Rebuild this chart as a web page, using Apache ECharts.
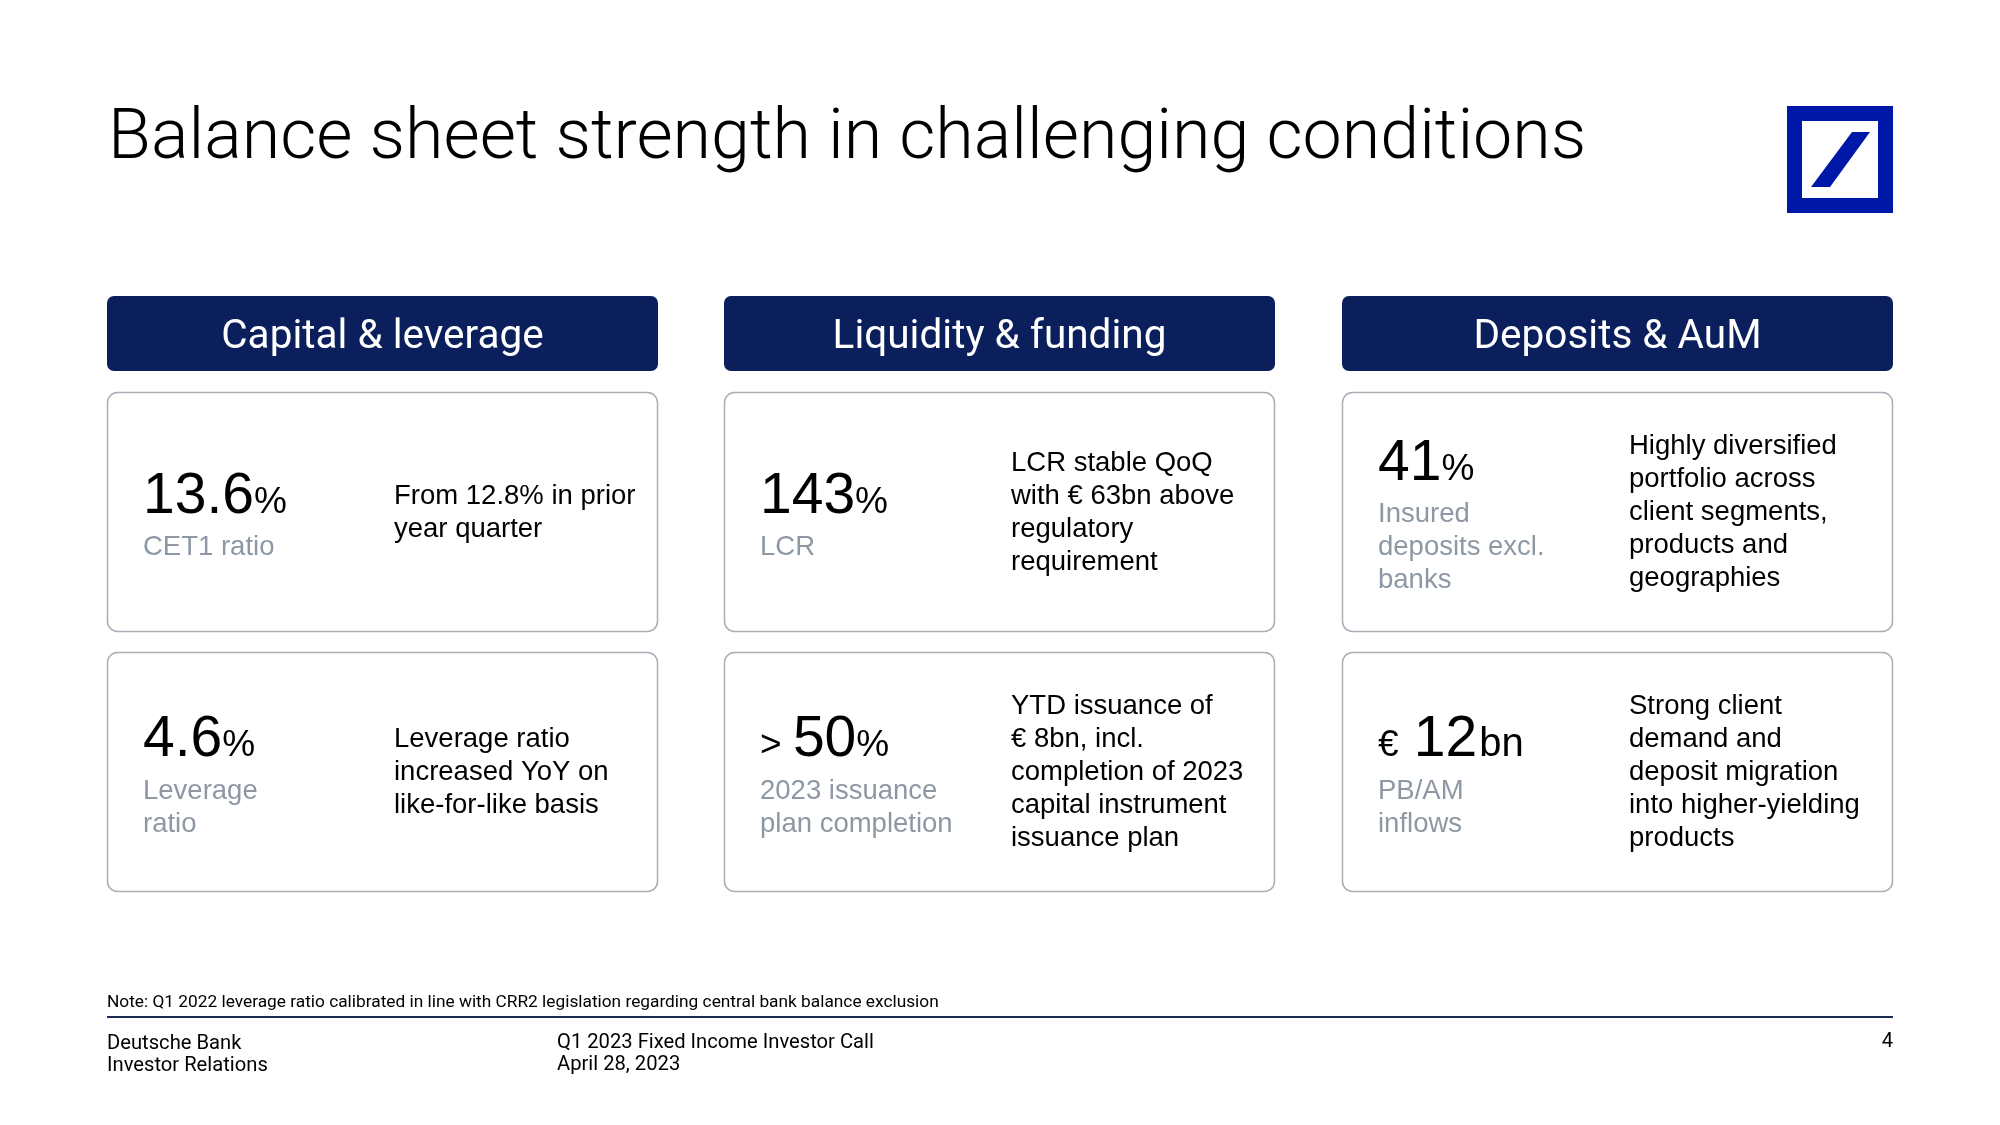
<!DOCTYPE html>
<html><head><meta charset="utf-8">
<script src="https://cdn.jsdelivr.net/npm/echarts@6/dist/echarts.min.js"></script>
<style>html,body{margin:0;padding:0;background:#fff}#chart{width:2000px;height:1125px}</style>
</head><body><div id="chart"></div>
<script>
// ---------- content ----------
const slideTitle = 'Balance sheet strength in challenging conditions';
const categories = ['Capital & leverage', 'Liquidity & funding', 'Deposits & AuM'];
// per category: [top card, bottom card]
const metricPrefix = [['', ''], ['', '> '], ['', '€ ']];
const metricValues = [['13.6', '4.6'], ['143', '50'], ['41', '12']];
const metricUnits  = [['%', '%'], ['%', '%'], ['%', 'bn']];
const metricLabels = [
  [['CET1 ratio'], ['Leverage', 'ratio']],
  [['LCR'], ['2023 issuance', 'plan completion']],
  [['Insured', 'deposits excl.', 'banks'], ['PB/AM', 'inflows']]
];
const metricNotes = [
  [['From 12.8% in prior', 'year quarter'], ['Leverage ratio', 'increased YoY on', 'like-for-like basis']],
  [['LCR stable QoQ', 'with € 63bn above', 'regulatory', 'requirement'], ['YTD issuance of', '€ 8bn, incl.', 'completion of 2023', 'capital instrument', 'issuance plan']],
  [['Highly diversified', 'portfolio across', 'client segments,', 'products and', 'geographies'], ['Strong client', 'demand and', 'deposit migration', 'into higher-yielding', 'products']]
];
const footnote = 'Note: Q1 2022 leverage ratio calibrated in line with CRR2 legislation regarding central bank balance exclusion';
const footerLeft = ['Deutsche Bank', 'Investor Relations'];
const footerMid = ['Q1 2023 Fixed Income Investor Call', 'April 28, 2023'];
const pageNumber = '4';

// ---------- style ----------
const NAVY = '#0b1f5c';
const GREY = '#8e98a4';
const BORDER = '#a7aeb6';
const DB_BLUE = '#0018a8';
const BODY = "'Liberation Sans', Arial, sans-serif";
const HEAD = "Roboto, 'Liberation Sans', sans-serif";

const mctx = document.createElement('canvas').getContext('2d');
function textW(t, font) { mctx.font = font; return mctx.measureText(t).width; }
function midToBase(font) {
  mctx.font = font;
  mctx.textBaseline = 'alphabetic';
  const a = mctx.measureText('H').actualBoundingBoxAscent;
  mctx.textBaseline = 'middle';
  const b = mctx.measureText('H').actualBoundingBoxAscent;
  mctx.textBaseline = 'alphabetic';
  return a - b;
}
function txt(x, y, text, o) {
  return {
    type: 'text', x: x, y: y, silent: true,
    style: Object.assign({
      text: text, fill: '#000',
      align: 'left', verticalAlign: 'middle',
      textAlign: 'left', textVerticalAlign: 'middle'
    }, o)
  };
}

const colX = [107, 724, 1342];
const colW = 551;
const headY = 296, headH = 75;
const rowY = [392, 652], rowH = 239;
const numOff = 36, noteOff = 287;
const NUM_FS = 57, UNIT_FS = 37, PRE_FS = 37, LAB_FS = 27.5, LINE_H = 33, NUM_LINE_H = 70;

const g = [];
// title
g.push(txt(108, 140, slideTitle, {font: '300 70px ' + HEAD, fill: '#000'}));
// logo
g.push({type: 'rect', shape: {x: 1787, y: 106, width: 106, height: 107}, style: {fill: DB_BLUE}});
g.push({type: 'rect', shape: {x: 1802, y: 121, width: 76, height: 77}, style: {fill: '#fff'}});
g.push({type: 'polygon', shape: {points: [[1852, 132], [1870, 132], [1830, 187], [1811, 187]]}, style: {fill: DB_BLUE}});

categories.forEach(function (cat, c) {
  const x0 = colX[c];
  g.push({type: 'rect', shape: {x: x0, y: headY, width: colW, height: headH, r: 7}, style: {fill: NAVY}});
  g.push(txt(x0 + colW / 2, headY + headH / 2 + 4, cat, {font: '400 40.5px ' + HEAD, fill: '#fff', align: 'center', textAlign: 'center'}));
  for (let r = 0; r < 2; r++) {
    const y0 = rowY[r];
    g.push({type: 'rect', shape: {x: x0 + 0.5, y: y0 + 0.5, width: colW - 1, height: rowH, r: 10}, style: {fill: '#fff', stroke: BORDER, lineWidth: 1.5}});
    const cy = y0 + rowH / 2 + 1;
    const labs = metricLabels[c][r];
    const groupH = NUM_LINE_H + labs.length * LINE_H;
    const top = cy - groupH / 2;
    const numY = top + NUM_LINE_H / 2 + 1;
    const unit = metricUnits[c][r];
    const fNum = '400 ' + NUM_FS + 'px ' + BODY;
    const fUnit = '400 ' + (unit === '%' ? UNIT_FS : UNIT_FS + 3) + 'px ' + BODY;
    const fPre = '400 ' + PRE_FS + 'px ' + BODY;
    const base = numY + midToBase(fNum);
    let x = x0 + numOff;
    const pre = metricPrefix[c][r];
    if (pre) {
      g.push(txt(x, base - midToBase(fPre), pre, {font: fPre}));
      x += textW(pre, fPre) + (pre.charAt(0) === '€' ? 5 : 1);
    }
    g.push(txt(x, numY, metricValues[c][r], {font: fNum}));
    x += textW(metricValues[c][r], fNum) + (unit === '%' ? 0 : 2);
    g.push(txt(x, base - midToBase(fUnit), unit, {font: fUnit}));
    g.push(txt(x0 + numOff, top + NUM_LINE_H + labs.length * LINE_H / 2, labs.join('\n'),
      {font: '400 ' + LAB_FS + 'px ' + BODY, fill: GREY, lineHeight: LINE_H}));
    const notes = metricNotes[c][r];
    g.push(txt(x0 + noteOff, cy, notes.join('\n'),
      {font: '400 ' + LAB_FS + 'px ' + BODY, fill: '#000', lineHeight: LINE_H}));
  }
});

// footer
g.push(txt(107, 1003, footnote, {font: '400 17.3px ' + HEAD, fill: '#000'}));
g.push({type: 'line', shape: {x1: 107, y1: 1017, x2: 1893, y2: 1017}, style: {stroke: '#1d2a52', lineWidth: 2}});
g.push(txt(107, 1055, footerLeft.join('\n'), {font: '400 20.2px ' + HEAD, fill: '#000', lineHeight: 22.5}));
g.push(txt(557, 1054, footerMid.join('\n'), {font: '400 20.2px ' + HEAD, fill: '#000', lineHeight: 22.5}));
g.push(txt(1893, 1042, pageNumber, {font: '400 20.2px ' + HEAD, fill: '#000', align: 'right', textAlign: 'right'}));

const chart = echarts.init(document.getElementById('chart'), null, {renderer: 'canvas'});
chart.setOption({backgroundColor: '#fff', animation: false, graphic: {elements: g}});
</script></body></html>
